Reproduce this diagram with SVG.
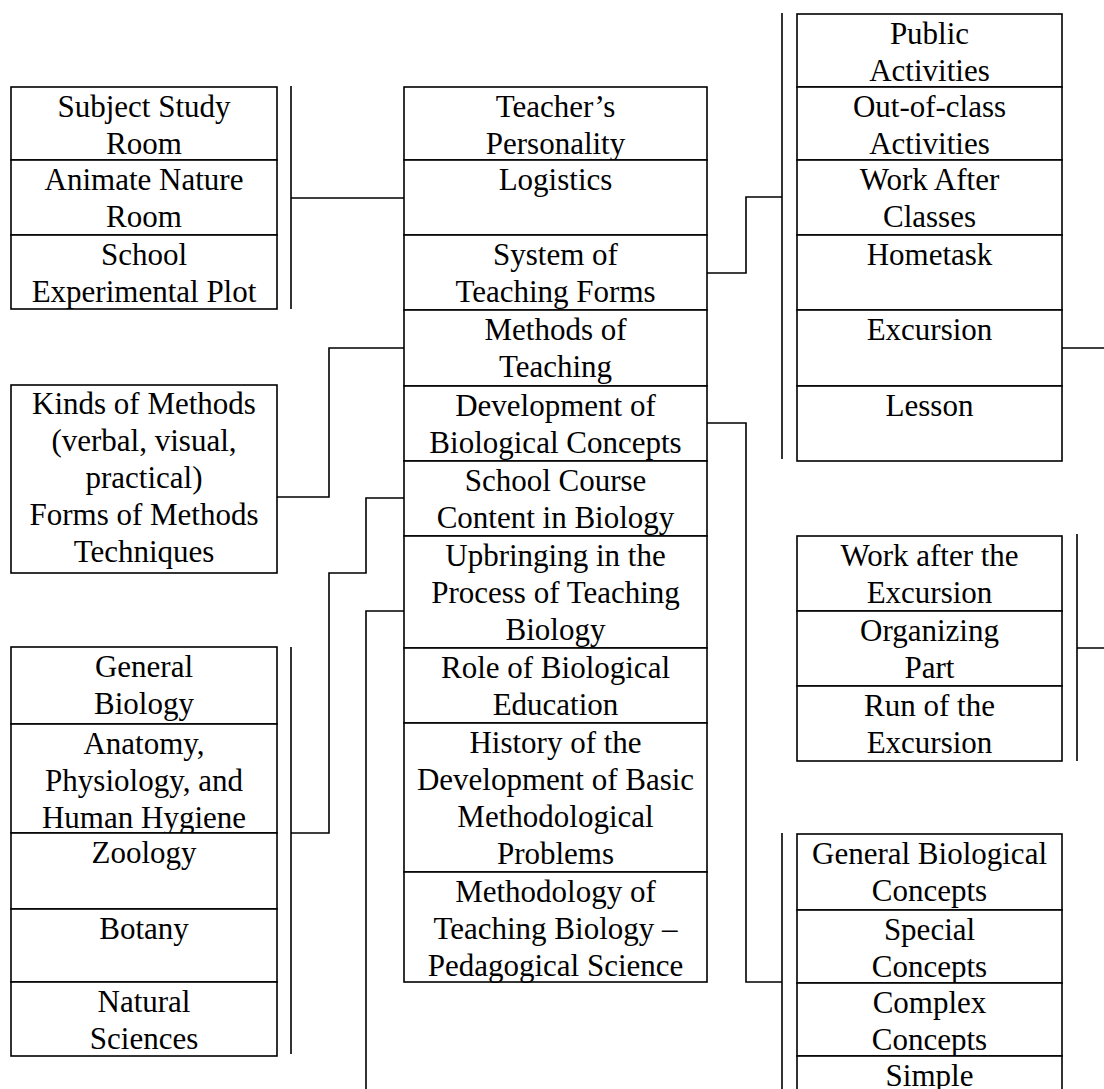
<svg xmlns="http://www.w3.org/2000/svg" width="1104" height="1089" viewBox="0 0 1104 1089">
<style>
.b{fill:#fff;stroke:#000;stroke-width:1.6}
.t{font-family:"Liberation Serif","Times New Roman",serif;font-size:31px;fill:#000;text-anchor:middle}
.c{fill:none;stroke:#000;stroke-width:1.6}
</style>
<rect width="1104" height="1089" fill="#fff"/>
<g id="connectors" class="c">
<path d="M291 86V309M291 198H404"/>
<path d="M277 497H329V348H404"/>
<path d="M404 498H366V573H329V833H291M291 647V1054"/>
<path d="M404 611H366V1089"/>
<path d="M707 273H746V197H782M782 13V459"/>
<path d="M1062 348H1104"/>
<path d="M1077 534V761M1077 648H1104"/>
<path d="M707 423H746V982H782M782 833V1089"/>
</g>
<g id="rooms">
<g id="subject-study-room"><rect class="b" x="11" y="87" width="266" height="73"/><text class="t"><tspan x="144" y="116.5">Subject Study</tspan><tspan x="144" y="153.5">Room</tspan></text></g>
<g id="animate-nature-room"><rect class="b" x="11" y="160" width="266" height="75"/><text class="t"><tspan x="144" y="189.5">Animate Nature</tspan><tspan x="144" y="226.5">Room</tspan></text></g>
<g id="school-plot"><rect class="b" x="11" y="235" width="266" height="74"/><text class="t"><tspan x="144" y="264.5">School</tspan><tspan x="144" y="301.5">Experimental Plot</tspan></text></g>
</g>
<g id="kinds-of-methods"><rect class="b" x="11" y="385" width="266" height="188"/><text class="t"><tspan x="144" y="414">Kinds of Methods</tspan><tspan x="144" y="451">(verbal, visual,</tspan><tspan x="144" y="488">practical)</tspan><tspan x="144" y="525">Forms of Methods</tspan><tspan x="144" y="562">Techniques</tspan></text></g>
<g id="school-subjects">
<g id="general-biology"><rect class="b" x="11" y="647" width="266" height="77"/><text class="t"><tspan x="144" y="676.5">General</tspan><tspan x="144" y="713.5">Biology</tspan></text></g>
<g id="anatomy"><rect class="b" x="11" y="724" width="266" height="109"/><text class="t"><tspan x="144" y="753.5">Anatomy,</tspan><tspan x="144" y="790.5">Physiology, and</tspan><tspan x="144" y="827.5">Human Hygiene</tspan></text></g>
<g id="zoology"><rect class="b" x="11" y="833" width="266" height="76"/><text class="t" x="144" y="862.5">Zoology</text></g>
<g id="botany"><rect class="b" x="11" y="909" width="266" height="73"/><text class="t" x="144" y="938.5">Botany</text></g>
<g id="natural-sciences"><rect class="b" x="11" y="982" width="266" height="74"/><text class="t"><tspan x="144" y="1011.5">Natural</tspan><tspan x="144" y="1048.5">Sciences</tspan></text></g>
</g>
<g id="center">
<g id="teachers-personality"><rect class="b" x="404" y="87" width="303" height="73"/><text class="t"><tspan x="555.5" y="116.5">Teacher’s</tspan><tspan x="555.5" y="153.5">Personality</tspan></text></g>
<g id="logistics"><rect class="b" x="404" y="160" width="303" height="75"/><text class="t" x="555.5" y="189.5">Logistics</text></g>
<g id="system-of-teaching-forms"><rect class="b" x="404" y="235" width="303" height="75"/><text class="t"><tspan x="555.5" y="264.5">System of</tspan><tspan x="555.5" y="301.5">Teaching Forms</tspan></text></g>
<g id="methods-of-teaching"><rect class="b" x="404" y="310" width="303" height="76"/><text class="t"><tspan x="555.5" y="339.5">Methods of</tspan><tspan x="555.5" y="376.5">Teaching</tspan></text></g>
<g id="development-of-concepts"><rect class="b" x="404" y="386" width="303" height="75"/><text class="t"><tspan x="555.5" y="415.5">Development of</tspan><tspan x="555.5" y="452.5">Biological Concepts</tspan></text></g>
<g id="school-course-content"><rect class="b" x="404" y="461" width="303" height="75"/><text class="t"><tspan x="555.5" y="490.5">School Course</tspan><tspan x="555.5" y="527.5">Content in Biology</tspan></text></g>
<g id="upbringing"><rect class="b" x="404" y="536" width="303" height="112"/><text class="t"><tspan x="555.5" y="565.5">Upbringing in the</tspan><tspan x="555.5" y="602.5">Process of Teaching</tspan><tspan x="555.5" y="639.5">Biology</tspan></text></g>
<g id="role-of-education"><rect class="b" x="404" y="648" width="303" height="75"/><text class="t"><tspan x="555.5" y="677.5">Role of Biological</tspan><tspan x="555.5" y="714.5">Education</tspan></text></g>
<g id="history"><rect class="b" x="404" y="723" width="303" height="149"/><text class="t"><tspan x="555.5" y="752.5">History of the</tspan><tspan x="555.5" y="789.5">Development of Basic</tspan><tspan x="555.5" y="826.5">Methodological</tspan><tspan x="555.5" y="863.5">Problems</tspan></text></g>
<g id="methodology"><rect class="b" x="404" y="872" width="303" height="110"/><text class="t"><tspan x="555.5" y="901.5">Methodology of</tspan><tspan x="555.5" y="938.5">Teaching Biology –</tspan><tspan x="555.5" y="975.5">Pedagogical Science</tspan></text></g>
</g>
<g id="teaching-forms">
<g id="public-activities"><rect class="b" x="797" y="14" width="265" height="73"/><text class="t"><tspan x="929.5" y="43.5">Public</tspan><tspan x="929.5" y="80.5">Activities</tspan></text></g>
<g id="out-of-class"><rect class="b" x="797" y="87" width="265" height="73"/><text class="t"><tspan x="929.5" y="116.5">Out-of-class</tspan><tspan x="929.5" y="153.5">Activities</tspan></text></g>
<g id="work-after-classes"><rect class="b" x="797" y="160" width="265" height="75"/><text class="t"><tspan x="929.5" y="189.5">Work After</tspan><tspan x="929.5" y="226.5">Classes</tspan></text></g>
<g id="hometask"><rect class="b" x="797" y="235" width="265" height="75"/><text class="t" x="929.5" y="264.5">Hometask</text></g>
<g id="excursion"><rect class="b" x="797" y="310" width="265" height="76"/><text class="t" x="929.5" y="339.5">Excursion</text></g>
<g id="lesson"><rect class="b" x="797" y="386" width="265" height="75"/><text class="t" x="929.5" y="415.5">Lesson</text></g>
</g>
<g id="excursion-parts">
<g id="work-after-excursion"><rect class="b" x="797" y="536" width="265" height="75"/><text class="t"><tspan x="929.5" y="565.5">Work after the</tspan><tspan x="929.5" y="602.5">Excursion</tspan></text></g>
<g id="organizing-part"><rect class="b" x="797" y="611" width="265" height="75"/><text class="t"><tspan x="929.5" y="640.5">Organizing</tspan><tspan x="929.5" y="677.5">Part</tspan></text></g>
<g id="run-of-excursion"><rect class="b" x="797" y="686" width="265" height="75"/><text class="t"><tspan x="929.5" y="715.5">Run of the</tspan><tspan x="929.5" y="752.5">Excursion</tspan></text></g>
</g>
<g id="concepts">
<g id="general-concepts"><rect class="b" x="797" y="834" width="265" height="76"/><text class="t"><tspan x="929.5" y="863.5">General Biological</tspan><tspan x="929.5" y="900.5">Concepts</tspan></text></g>
<g id="special-concepts"><rect class="b" x="797" y="910" width="265" height="73"/><text class="t"><tspan x="929.5" y="939.5">Special</tspan><tspan x="929.5" y="976.5">Concepts</tspan></text></g>
<g id="complex-concepts"><rect class="b" x="797" y="983" width="265" height="73"/><text class="t"><tspan x="929.5" y="1012.5">Complex</tspan><tspan x="929.5" y="1049.5">Concepts</tspan></text></g>
<g id="simple-concepts"><rect class="b" x="797" y="1056" width="265" height="60"/><text class="t" x="929.5" y="1085.5">Simple</text></g>
</g>
</svg>
